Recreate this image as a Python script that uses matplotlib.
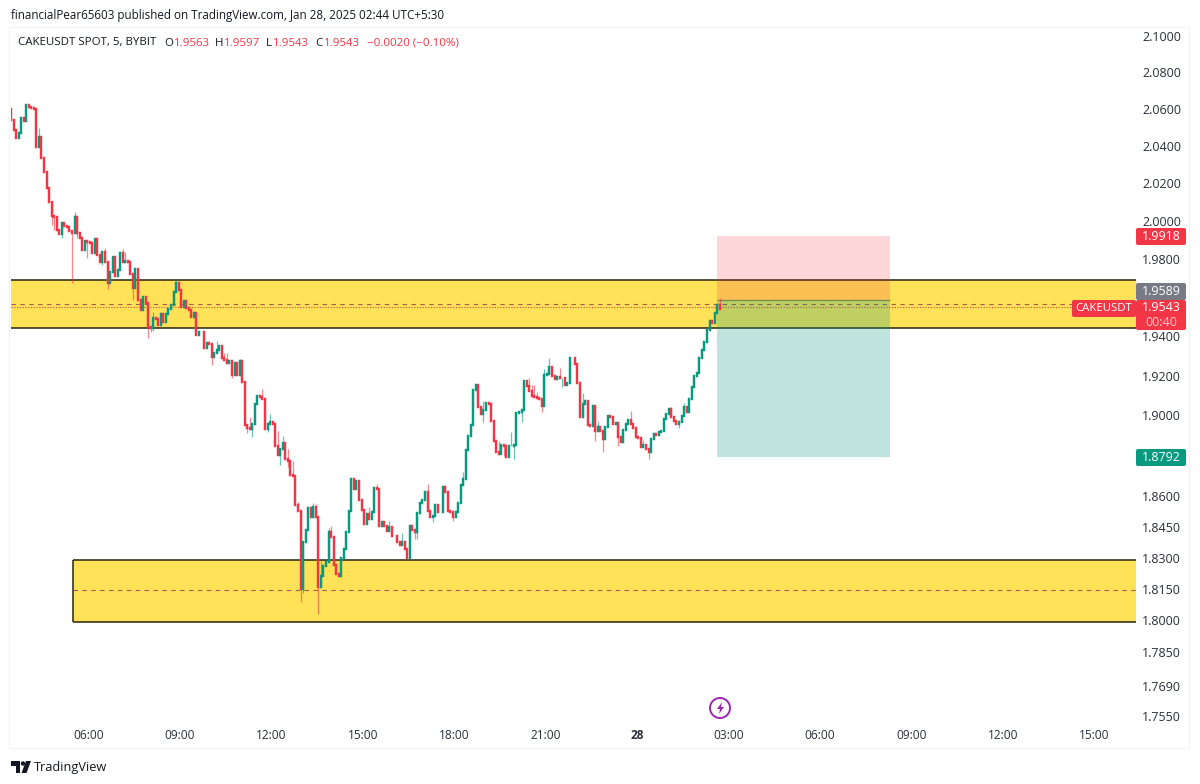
import matplotlib
matplotlib.use("Agg")
import matplotlib.pyplot as plt
from matplotlib.patches import FancyBboxPatch, Rectangle, Circle, Polygon

FIRST_OPEN = 2.0598
closes = [
 2.0540,2.0487,2.0444,2.0471,2.0551,2.0535,2.0622,2.0611,2.0605,2.0600,
 2.0394,2.0449,2.0335,2.0260,2.0175,2.0101,2.0028,2.0023,1.9954,1.9933,
 1.9991,1.9975,1.9970,1.9949,1.9938,2.0023,1.9938,1.9912,1.9845,1.9892,
 1.9887,1.9885,1.9830,1.9907,1.9819,1.9783,1.9835,1.9783,1.9674,1.9731,
 1.9809,1.9710,1.9741,1.9830,1.9783,1.9788,1.9783,1.9720,1.9648,1.9746,
 1.9587,1.9536,1.9602,1.9572,1.9449,1.9444,1.9494,1.9489,1.9459,1.9515,
 1.9474,1.9515,1.9541,1.9562,1.9628,1.9674,1.9638,1.9551,1.9582,1.9546,
 1.9536,1.9500,1.9520,1.9408,1.9423,1.9423,1.9342,1.9367,1.9362,1.9297,
 1.9317,1.9332,1.9352,1.9287,1.9277,1.9266,1.9272,1.9205,1.9266,1.9205,
 1.9272,1.9170,1.8950,1.8935,1.8930,1.8955,1.9055,1.9095,1.9092,1.9080,
 1.8930,1.8955,1.8965,1.8955,1.8846,1.8801,1.8831,1.8861,1.8781,1.8771,
 1.8703,1.8698,1.8555,1.8526,1.8149,1.8375,1.8433,1.8541,1.8497,1.8546,
 1.8497,1.8159,1.8211,1.8260,1.8279,1.8423,1.8400,1.8265,1.8221,1.8211,
 1.8298,1.8341,1.8423,1.8526,1.8683,1.8634,1.8673,1.8580,1.8531,1.8463,
 1.8512,1.8487,1.8521,1.8639,1.8634,1.8453,1.8472,1.8453,1.8428,1.8448,
 1.8404,1.8402,1.8375,1.8360,1.8375,1.8341,1.8298,1.8453,1.8433,1.8423,
 1.8516,1.8565,1.8580,1.8620,1.8526,1.8497,1.8502,1.8555,1.8521,1.8521,
 1.8644,1.8620,1.8526,1.8521,1.8497,1.8521,1.8565,1.8653,1.8683,1.8826,
 1.8896,1.8950,1.9125,1.9150,1.9040,1.9005,1.9025,1.9060,1.9055,1.8970,
 1.8871,1.8816,1.8806,1.8851,1.8846,1.8791,1.8846,1.8846,1.8851,1.9010,
 1.9015,1.9025,1.9175,1.9145,1.9120,1.9095,1.9093,1.9085,1.9080,1.9045,
 1.9205,1.9210,1.9246,1.9200,1.9185,1.9195,1.9190,1.9190,1.9155,1.9165,
 1.9287,1.9287,1.9261,1.9165,1.8990,1.9055,1.9070,1.8950,1.8945,1.9045,
 1.8920,1.8940,1.8920,1.8881,1.8940,1.8995,1.8990,1.8955,1.8960,1.8890,
 1.8866,1.8925,1.8955,1.8975,1.8955,1.8935,1.8890,1.8886,1.8841,1.8851,
 1.8831,1.8816,1.8881,1.8905,1.8900,1.8915,1.8920,1.8980,1.9005,1.9030,
 1.8990,1.8970,1.8955,1.8965,1.8995,1.9040,1.9015,1.9080,1.9140,1.9200,
 1.9215,1.9287,1.9332,1.9372,1.9434,1.9479,1.9469,1.9520,1.9563,1.9543,
]
upper_wicks = {
 11:2.0497,25:2.0049,37:1.9856,44:1.9850,45:1.9835,56:1.9525,65:1.9690,81:1.9378,
 84:1.9317,85:1.9317,90:1.9282,94:1.8990,99:1.9130,102:1.9005,105:1.8920,107:1.8896,
 109:1.8834,111:1.8771,113:1.8570,119:1.8566,120:1.8560,122:1.8283,125:1.8443,126:1.8453,
 141:1.8546,144:1.8658,149:1.8477,154:1.8420,164:1.8658,171:1.8653,178:1.8718,186:1.9070,
 192:1.8871,197:1.8915,204:1.9190,205:1.9155,206:1.9155,207:1.9115,210:1.9231,212:1.9287,
 216:1.9241,225:1.9110,231:1.8970,244:1.9020,249:1.8876,260:1.9040,265:1.9060,279:1.9597,
}
lower_wicks = {
 16:1.9980,17:1.9954,20:1.9912,24:1.9674,26:1.9910,30:1.9805,36:1.9768,38:1.9643,
 48:1.9587,54:1.9393,55:1.9424,56:1.9429,79:1.9256,87:1.9190,93:1.8910,95:1.8890,
 101:1.8915,106:1.8752,109:1.8742,114:1.8087,115:1.8130,121:1.8029,159:1.8390,160:1.8390,
 166:1.8472,174:1.8477,186:1.8965,194:1.8796,198:1.8781,201:1.8965,209:1.9015,217:1.9140,
 230:1.8871,233:1.8816,239:1.8846,251:1.8781,263:1.8935,
}
price_ticks = [2.1,2.08,2.06,2.04,2.02,2.0,1.98,1.94,1.92,1.90,1.86,1.845,1.83,1.815,1.80,1.785,1.769,1.755]
time_labels = ["06:00","09:00","12:00","15:00","18:00","21:00","28","03:00","06:00","09:00","12:00","15:00"]
time_positions = [30.5,66.5,102.5,138.5,174.5,210.5,246.5,282.5,318.5,354.5,390.5,426.5]
upper_zone = (1.9444, 1.9690, 1.9566)
lower_zone = (1.7990, 1.8290, 1.8145)
last_price_line = 1.9550
position = dict(entry=1.9589, stop=1.9918, target=1.8792, start=278, end=346)
lower_zone_start = 24.5

UP, DOWN = "#089981", "#F23645"
W, H = 1200, 784
fig = plt.figure(figsize=(12, 7.84), dpi=100, facecolor="white")
plt.rcParams["font.family"] = ["Open Sans", "DejaVu Sans"]

def fx(x): return x / W
def fy(y): return 1 - y / H

# outer frame
fig.add_artist(Rectangle((fx(9), fy(748)), fx(1180), 721 / H, transform=fig.transFigure,
                         fc="none", ec="#F2F3F5", lw=0.8))

ax = fig.add_axes([fx(11), fy(725), 1125 / W, 698 / H])
ax.set_yscale("log")
ax.set_ylim(1.7509, 2.105)
ax.set_xlim(0, 1125 / 2.54)
for s in ax.spines.values():
    s.set_visible(False)

# zones
for (lo, hi, mid), x0 in ((upper_zone, 0), (lower_zone, lower_zone_start)):
    ax.fill_between([x0, ax.get_xlim()[1]], lo, hi, color="#FFE258", lw=0, zorder=1)
    ax.hlines([lo, hi], x0, ax.get_xlim()[1], color="#26260f", lw=1.1, zorder=2)
    ax.hlines(mid, x0, ax.get_xlim()[1], color="#A8584F", lw=0.8, linestyles=(0, (4, 4)), zorder=2)
ax.vlines(lower_zone_start, lower_zone[0], lower_zone[1], color="#26260f", lw=1.1, zorder=2)
ax.hlines(last_price_line, 0, ax.get_xlim()[1], color="#E0483F", lw=0.8, linestyles=(0, (1, 1.5)), zorder=2)

# position tool
p = position
ax.fill_between([p["start"], p["end"]], p["entry"], p["stop"], color=DOWN, alpha=0.2, lw=0, zorder=3)
ax.fill_between([p["start"], p["end"]], p["target"], p["entry"], color=UP, alpha=0.26, lw=0, zorder=3)
ax.hlines(p["entry"], p["start"], p["end"], color="#6f8f4f", lw=0.9, zorder=3)

# candles
opens = [FIRST_OPEN] + closes[:-1]
for i, (o, c) in enumerate(zip(opens, closes)):
    col = UP if c >= o else DOWN
    hi = max(o, c, upper_wicks.get(i, 0))
    lo = min(o, c, lower_wicks.get(i, 9))
    if hi > max(o, c) or lo < min(o, c):
        ax.vlines(i, lo, hi, color=col, lw=0.9, alpha=0.6, zorder=4)
    ax.vlines(i, min(o, c), max(o, c), color=col, lw=1.75, capstyle="projecting", zorder=5)

# axes ticks
ax.minorticks_off()
ax.yaxis.set_ticks_position("right")
ax.set_yticks(price_ticks)
ax.set_yticklabels([f"{v:.4f}" for v in price_ticks])
ax.tick_params(axis="y", length=0, pad=4.5, labelsize=9.0, labelcolor="#2A2E39", which="both")
ax.yaxis.set_minor_locator(matplotlib.ticker.NullLocator())
ax.set_xticks(time_positions)
ax.set_xticklabels(time_labels)
ax.tick_params(axis="x", length=0, pad=3, labelsize=8.6, labelcolor="#2A2E39")
for lab in ax.get_xticklabels():
    if lab.get_text() == "28":
        lab.set_fontweight("bold")

# price tags
def tag(x0, x1, y0, y1, color, lines, size=9.0):
    fig.add_artist(FancyBboxPatch((x0, H - y1), x1 - x0, y1 - y0,
                                  boxstyle="round,pad=0,rounding_size=2", transform=None,
                                  fc=color, ec="none", zorder=6))
    n = len(lines)
    for k, (txt, c) in enumerate(lines):
        fig.text(fx((x0 + x1) / 2), fy(y0 + (y1 - y0) * (k + 0.5) / n), txt, color=c,
                 ha="center", va="center", fontsize=size, zorder=7)

tag(1136, 1186, 228, 245, "#F23645", [("1.9918", "white")])
tag(1136, 1186, 283, 300, "#787B86", [("1.9589", "white")])
tag(1136, 1186, 300, 330, "#F23645", [("1.9543", "white"), ("00:40", "#FFC9CE")])
tag(1072, 1136, 300, 317, "#F23645", [("CAKEUSDT", "white")], size=8.2)
tag(1136, 1186, 449, 466, "#089981", [("1.8792", "white")])

# header
fig.text(fx(11), fy(15), "financialPear65603 published on TradingView.com, Jan 28, 2025 02:44 UTC+5:30",
         fontsize=8.36, color="#131722", ha="left", va="center")
parts = [("CAKEUSDT SPOT, 5, BYBIT", 18, "#131722"), ("O", 164, "#131722"), ("1.9563", 174, DOWN),
         ("H", 215, "#131722"), ("1.9597", 224, DOWN), ("L", 266, "#131722"), ("1.9543", 273, DOWN),
         ("C", 315, "#131722"), ("1.9543", 324, DOWN), ("\u22120.0020 (\u22120.10%)", 367, DOWN)]
for txt, x, c in parts:
    fig.text(fx(x), fy(43), txt, fontsize=8.25, color=c, ha="left", va="center")

# lightning marker
fig.add_artist(Circle((720, H - 708), 10, transform=None, fc="white", ec="#9C27B0", lw=1.4, zorder=8))
fig.add_artist(Polygon([(722, H-702), (717, H-709), (720, H-709), (719, H-714), (724, H-707), (721, H-707)],
                       closed=True, transform=None, fc="#9C27B0", ec="none", zorder=9))

# logo
fig.add_artist(Polygon([(11, H-761), (20, H-761), (20, H-773), (15.5, H-773), (15.5, H-766), (11, H-766)],
                       closed=True, transform=None, fc="#131722", ec="none"))
fig.add_artist(Circle((23, H-763.5), 2.2, transform=None, fc="#131722", ec="none"))
fig.add_artist(Polygon([(26, H-761), (31, H-761), (26.5, H-773), (21.5, H-773)],
                       closed=True, transform=None, fc="#131722", ec="none"))
fig.text(fx(34), fy(767), "TradingView", fontsize=9.2, color="#131722", ha="left", va="center")

fig.savefig("out.png", dpi=100, facecolor="white")
